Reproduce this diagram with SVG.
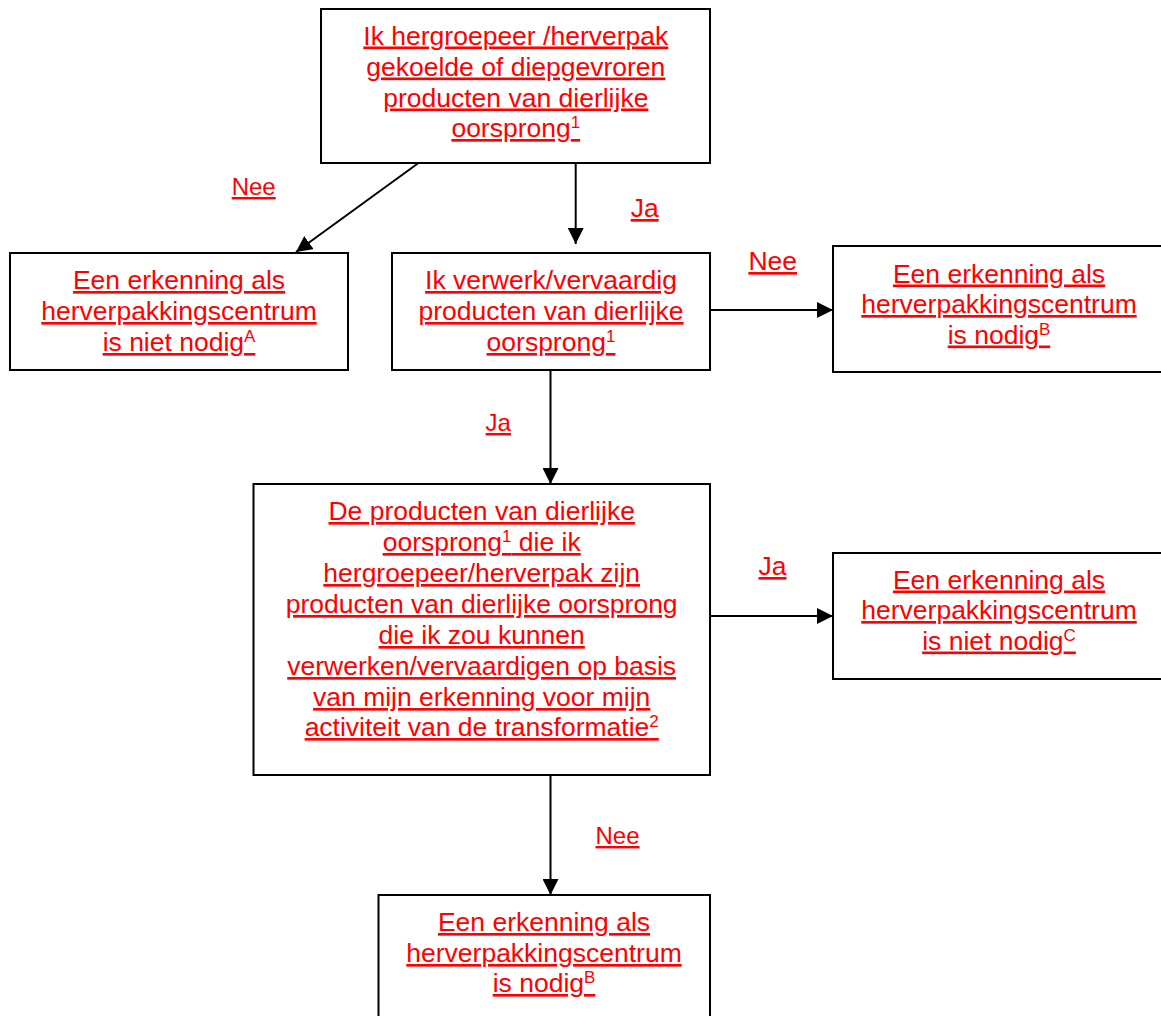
<svg xmlns="http://www.w3.org/2000/svg" width="1161" height="1016" viewBox="0 0 1161 1016">
<defs>
<style>
.box{fill:#fff;stroke:#000;stroke-width:2}
.t{font-family:"Liberation Sans",Arial,sans-serif;font-size:26.5px;fill:#f00;text-anchor:middle}
.u{text-decoration:underline}
.sup{font-size:17px}
.ls{font-size:24px}
.c{stroke:#000;stroke-width:2;fill:none;marker-end:url(#ah)}
</style>
<marker id="ah" markerUnits="userSpaceOnUse" markerWidth="16" markerHeight="16" refX="16" refY="8" orient="auto">
<path d="M0,0 L16,8 L0,16 Z" fill="#000"/>
</marker>
</defs>
<rect width="1161" height="1016" fill="#fff"/>
<g id="connectors">
<line class="c" x1="418.5" y1="163" x2="296" y2="252"/>
<line class="c" x1="575.7" y1="163" x2="575.7" y2="244"/>
<line class="c" x1="710" y1="310" x2="833" y2="310"/>
<line class="c" x1="550.5" y1="370" x2="550.5" y2="484"/>
<line class="c" x1="710" y1="616" x2="833" y2="616"/>
<line class="c" x1="550.5" y1="775" x2="550.5" y2="895"/>
</g>
<g id="labels">
<text class="t u ls" x="253.7" y="195">Nee</text>
<text class="t u" x="644.7" y="217">Ja</text>
<text class="t u" x="772.7" y="270">Nee</text>
<text class="t u ls" x="498.3" y="431">Ja</text>
<text class="t u" x="772.5" y="575">Ja</text>
<text class="t u ls" x="617.5" y="844">Nee</text>
</g>
<g id="n1">
<rect class="box" x="321" y="9" width="389" height="154"/>
<text class="t u" x="515.8" y="44.5">Ik hergroepeer /herverpak</text>
<text class="t u" x="515.8" y="75.5">gekoelde of diepgevroren</text>
<text class="t u" x="515.8" y="106.5">producten van dierlijke</text>
<text class="t" x="515.8" y="137"><tspan class="u">oorsprong<tspan letter-spacing="2.1">&#160;</tspan></tspan><tspan class="sup" dx="-9.45" dy="-9">1</tspan></text>
</g>
<g id="n2">
<rect class="box" x="10" y="253" width="338" height="117"/>
<text class="t u" x="179" y="289">Een erkenning als</text>
<text class="t u" x="179" y="320">herverpakkingscentrum</text>
<text class="t" x="179" y="351"><tspan class="u">is niet nodig<tspan letter-spacing="3.9">&#160;</tspan></tspan><tspan class="sup" dx="-11.3" dy="-9">A</tspan></text>
</g>
<g id="n3">
<rect class="box" x="392" y="253" width="318" height="117"/>
<text class="t u" x="551" y="289">Ik verwerk/vervaardig</text>
<text class="t u" x="551" y="320">producten van dierlijke</text>
<text class="t" x="551" y="351"><tspan class="u">oorsprong<tspan letter-spacing="2.1">&#160;</tspan></tspan><tspan class="sup" dx="-9.45" dy="-9">1</tspan></text>
</g>
<g id="n4">
<rect class="box" x="833" y="246" width="340" height="126"/>
<text class="t u" x="999" y="282.5">Een erkenning als</text>
<text class="t u" x="999" y="313">herverpakkingscentrum</text>
<text class="t" x="999" y="343.5"><tspan class="u">is nodig<tspan letter-spacing="3.9">&#160;</tspan></tspan><tspan class="sup" dx="-11.3" dy="-9">B</tspan></text>
</g>
<g id="n5">
<rect class="box" x="253.5" y="484" width="456.5" height="291"/>
<text class="t u" x="481.7" y="520">De producten van dierlijke</text>
<text class="t" x="481.7" y="551"><tspan class="u">oorsprong<tspan letter-spacing="2.1">&#160;</tspan></tspan><tspan class="sup" dx="-9.45" dy="-9">1</tspan><tspan class="u" dy="9">&#160;die ik</tspan></text>
<text class="t u" x="481.7" y="582">hergroepeer/herverpak zijn</text>
<text class="t u" x="481.7" y="613">producten van dierlijke oorsprong</text>
<text class="t u" x="481.7" y="644">die ik zou kunnen</text>
<text class="t u" x="481.7" y="675">verwerken/vervaardigen op basis</text>
<text class="t u" x="481.7" y="706">van mijn erkenning voor mijn</text>
<text class="t" x="481.7" y="736"><tspan class="u">activiteit van de transformatie<tspan letter-spacing="2.1">&#160;</tspan></tspan><tspan class="sup" dx="-9.45" dy="-9">2</tspan></text>
</g>
<g id="n6">
<rect class="box" x="833" y="553" width="340" height="126"/>
<text class="t u" x="999" y="588.5">Een erkenning als</text>
<text class="t u" x="999" y="619">herverpakkingscentrum</text>
<text class="t" x="999" y="649.5"><tspan class="u">is niet nodig<tspan letter-spacing="4.9">&#160;</tspan></tspan><tspan class="sup" dx="-12.3" dy="-9">C</tspan></text>
</g>
<g id="n7">
<rect class="box" x="378.5" y="895" width="331.5" height="140"/>
<text class="t u" x="544" y="931">Een erkenning als</text>
<text class="t u" x="544" y="962">herverpakkingscentrum</text>
<text class="t" x="544" y="992"><tspan class="u">is nodig<tspan letter-spacing="3.9">&#160;</tspan></tspan><tspan class="sup" dx="-11.3" dy="-9">B</tspan></text>
</g>
</svg>
